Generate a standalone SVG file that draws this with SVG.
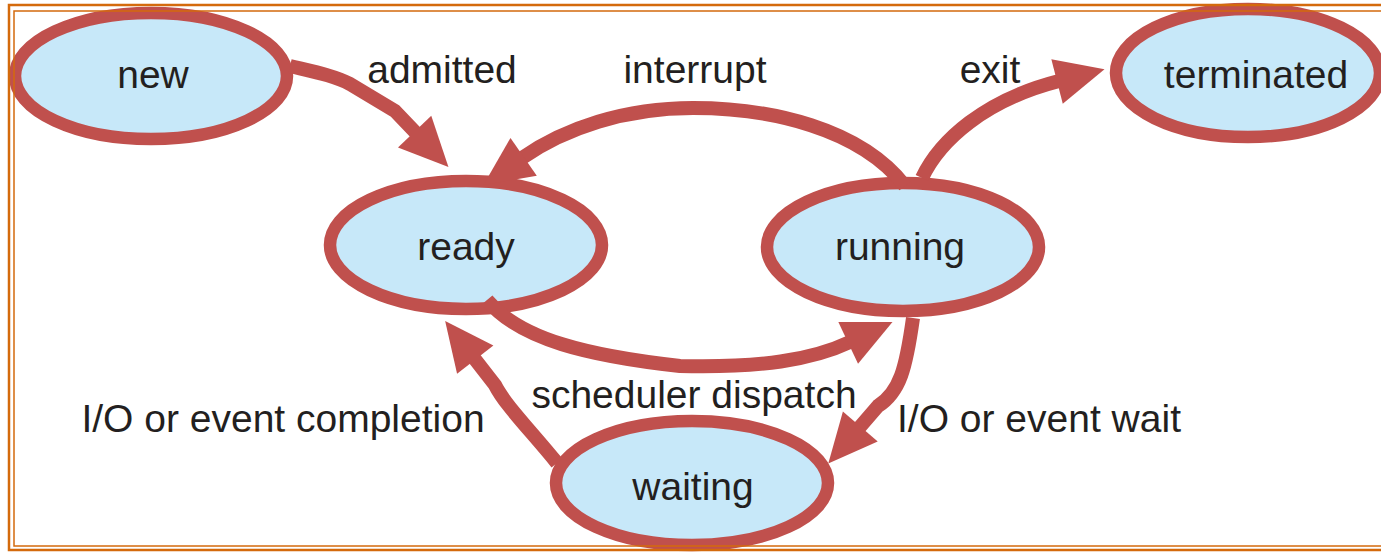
<svg xmlns="http://www.w3.org/2000/svg" width="1381" height="553" viewBox="0 0 1381 553">
<style>
.node{fill:#c7e8f9;stroke:#c0504d;stroke-width:12.5}
.lbl{font-family:"Liberation Sans",Arial,Helvetica,sans-serif;font-size:39px;fill:#231f20;text-anchor:middle}
.edge{fill:none;stroke:#c0504d;stroke-width:14;stroke-linejoin:round;marker-end:url(#head)}
.frame{fill:none;stroke:#d46a0c}
</style>
<defs>
<marker id="head" markerUnits="userSpaceOnUse" markerWidth="52" markerHeight="48" refX="2" refY="23" orient="auto" overflow="visible">
<path d="M0,0 L49,23 L0,46 Z" fill="#c0504d"/>
</marker>
</defs>
<rect width="1381" height="553" fill="#ffffff"/>
<g id="nodes">
<g id="node-new"><ellipse class="node" cx="151" cy="76" rx="136" ry="63"/><text class="lbl" x="153" y="88">new</text></g>
<g id="node-ready"><ellipse class="node" cx="466" cy="245" rx="136" ry="64"/><text class="lbl" x="466" y="260">ready</text></g>
<g id="node-running"><ellipse class="node" cx="903" cy="247" rx="136" ry="64"/><text class="lbl" x="900" y="260">running</text></g>
<g id="node-terminated"><ellipse class="node" cx="1248" cy="73" rx="132" ry="64"/><text class="lbl" x="1256" y="88">terminated</text></g>
<g id="node-waiting"><ellipse class="node" cx="692" cy="483" rx="136" ry="62"/><text class="lbl" x="693" y="500">waiting</text></g>
</g>
<g id="connectors">
<path class="edge" d="M290,66 C315,72 335,76 350,84 L395,111 L416,133"/>
<path class="edge" d="M905,186 C860,128 770,108 693,108 C625,108 565,128 522,158"/>
<path class="edge" d="M922,178 C940,140 985,100 1059,81"/>
<path class="edge" d="M487,300 C520,340 590,356 680,366 C760,368 812,360 850,342"/>
<path class="edge" d="M913,318 C906,368 900,392 878,406 L859,428"/>
<path class="edge" d="M557,463 C532,432 505,405 495,385 L474,358"/>
<text class="lbl" x="442" y="83">admitted</text>
<text class="lbl" x="695" y="83">interrupt</text>
<text class="lbl" x="990" y="83">exit</text>
<text class="lbl" x="694" y="408">scheduler dispatch</text>
<text class="lbl" x="283" y="432">I/O or event completion</text>
<text class="lbl" x="1039" y="432">I/O or event wait</text>
</g>
<rect class="frame" x="9" y="5" width="1400" height="545" stroke-width="2.5"/>
<rect class="frame" x="14" y="11" width="1400" height="535" stroke-width="1.5"/>
</svg>
